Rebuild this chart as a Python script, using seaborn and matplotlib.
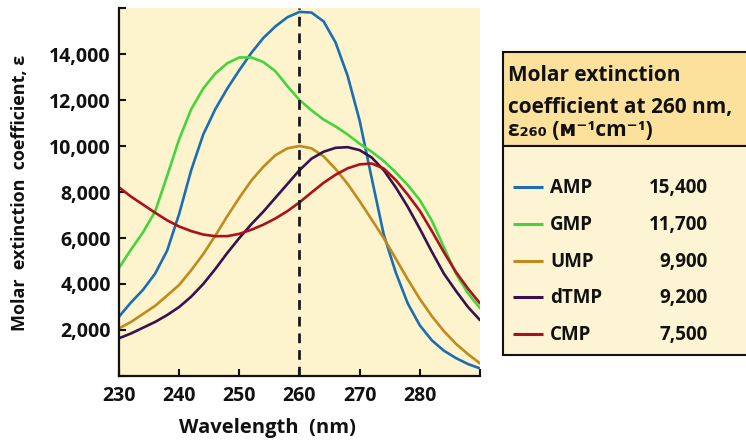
import numpy as np
import pandas as pd
import matplotlib
matplotlib.use("Agg")
import matplotlib.pyplot as plt
import matplotlib.ticker as mticker
from matplotlib.patches import Rectangle
import seaborn as sns

# ── Data (epsilon in thousands) ───────────────────────────────────────
wavelength = list(range(230, 291, 2))

amp = [2.58, 3.2, 3.75, 4.45, 5.45, 7.05, 8.95, 10.5, 11.6, 12.5, 13.3, 14.05, 14.7, 15.2,
       15.6, 15.83, 15.8, 15.42, 14.5, 13.05, 11.1, 8.6, 6.15, 4.5, 3.15, 2.2, 1.55,
       1.1, 0.78, 0.52, 0.33]
gmp = [4.7, 5.5, 6.25, 7.15, 8.7, 10.3, 11.6, 12.5, 13.15, 13.6, 13.85, 13.85, 13.65, 13.25,
       12.6, 12.0, 11.55, 11.15, 10.85, 10.5, 10.1, 9.75, 9.35, 8.85, 8.3, 7.65, 6.75, 5.6,
       4.45, 3.6, 2.95]
ump = [2.07, 2.35, 2.7, 3.05, 3.5, 3.96, 4.6, 5.3, 6.1, 6.95, 7.75, 8.5, 9.1, 9.6,
       9.9, 10.0, 9.9, 9.55, 9.0, 8.35, 7.6, 6.8, 6.0, 5.1, 4.2, 3.35, 2.6, 1.95,
       1.4, 0.95, 0.55]
dtmp = [1.64, 1.85, 2.1, 2.35, 2.65, 3.0, 3.45, 4.0, 4.65, 5.35, 6.0, 6.6, 7.15, 7.75,
        8.35, 8.95, 9.45, 9.75, 9.92, 9.95, 9.82, 9.5, 8.95, 8.2, 7.35, 6.4, 5.4, 4.45,
        3.7, 3.0, 2.43]
cmp_ = [8.2, 7.8, 7.45, 7.1, 6.77, 6.5, 6.3, 6.15, 6.08, 6.08, 6.18, 6.36, 6.58, 6.85,
        7.17, 7.55, 7.98, 8.4, 8.75, 9.03, 9.2, 9.24, 9.02, 8.52, 7.88, 7.18, 6.3, 5.38,
        4.52, 3.8, 3.16]

names = ["AMP", "GMP", "UMP", "dTMP", "CMP"]
eps260 = [15400, 11700, 9900, 9200, 7500]
colors = ["#1c6db3", "#45d43c", "#c08a1c", "#36124e", "#a9121c"]

df = pd.concat([
    pd.DataFrame({"wavelength": wavelength, "eps": np.array(v) * 1000, "nt": n})
    for n, v in zip(names, [amp, gmp, ump, dtmp, cmp_])
])

# ── Style ─────────────────────────────────────────────────────────────
sns.set_theme(style="ticks")
plt.rcParams["font.family"] = ["Open Sans", "DejaVu Sans"]
plt.rcParams["font.weight"] = "bold"
INK = "#111111"

W, H = 746, 440
fig = plt.figure(figsize=(W / 100, H / 100), dpi=100)
ax = fig.add_axes([119 / W, 1 - 376 / H, 361 / W, 368 / H])
ax.set_facecolor("#fdf3cc")

sns.lineplot(data=df, x="wavelength", y="eps", hue="nt", hue_order=names,
             palette=dict(zip(names, colors)), linewidth=1.9, legend=False, ax=ax)
ax.axvline(260, color="#1a1a1a", linestyle=(0, (3.5, 2.5)), linewidth=2)

ax.set_xlim(230, 290)
ax.set_ylim(0, 16000)
ax.set_xticks(range(230, 291, 10))
ax.set_yticks(range(0, 16001, 2000))
ax.xaxis.set_major_formatter(mticker.FuncFormatter(lambda v, p: f"{v:.0f}" if v < 290 else ""))
ax.yaxis.set_major_formatter(mticker.FuncFormatter(lambda v, p: f"{v:,.0f}" if 0 < v < 16000 else ""))
ax.tick_params(direction="in", length=5, width=1.5, colors=INK, labelsize=14)
ax.tick_params(axis="y", pad=6)
ax.tick_params(axis="x", pad=7)
for lab in ax.get_xticklabels() + ax.get_yticklabels():
    lab.set_fontweight("bold")
sns.despine(ax=ax)
for s in ["left", "bottom"]:
    ax.spines[s].set_linewidth(1.6)
    ax.spines[s].set_color(INK)
ax.set_xlabel("")
ax.set_ylabel("")

fig.text(20 / W, 1 - 193 / H, "Molar  extinction  coefficient, ε", rotation=90,
         ha="center", va="center", fontsize=13, fontweight="bold", color=INK)
fig.text(267 / W, 1 - 428 / H, "Wavelength  (nm)", ha="center", va="center",
         fontsize=14.5, fontweight="bold", color=INK)

# ── Side panel with epsilon at 260 nm ─────────────────────────────────
lax = fig.add_axes([0, 0, 1, 1], facecolor="none")
lax.set_xlim(0, W)
lax.set_ylim(H, 0)
lax.axis("off")
lax.add_patch(Rectangle((503, 52), 260, 94, facecolor="#fbe19c", edgecolor=INK, lw=1.5))
lax.add_patch(Rectangle((503, 146), 260, 209, facecolor="#fdf4d3", edgecolor=INK, lw=1.5))

hdr = ["Molar extinction", "coefficient at 260 nm,", "ε₂₆₀ (ᴍ⁻¹cm⁻¹)"]
for txt, yb in zip(hdr, [81, 113, 136]):
    lax.text(508, yb, txt, ha="left", va="baseline", fontsize=15,
             fontweight="bold", color=INK)

for i, (n, e, c) in enumerate(zip(names, eps260, colors)):
    yb = 193 + i * 36.8
    lax.plot([513, 543], [yb - 6, yb - 6], color=c, lw=2.2, solid_capstyle="butt")
    lax.text(550, yb, n, ha="left", va="baseline", fontsize=13.5, fontweight="bold", color=INK)
    lax.text(708, yb, f"{e:,}", ha="right", va="baseline", fontsize=13.5, fontweight="bold", color=INK)

fig.savefig("out.png", dpi=100)
